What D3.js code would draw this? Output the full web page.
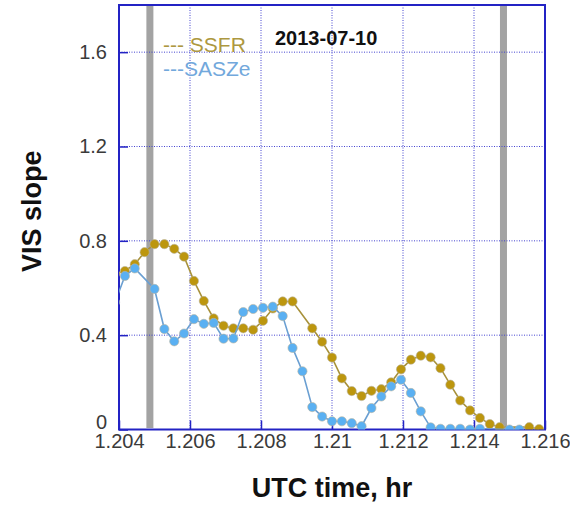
<!DOCTYPE html>
<html>
<head>
<meta charset="utf-8">
<script src="https://cdn.jsdelivr.net/npm/d3@7"></script>
<style>
  body { margin: 0; background: #fff; }
  text { font-family: Arial, "Liberation Sans", sans-serif; }
</style>
</head>
<body>
<svg id="chart" width="570" height="505"></svg>
<script>
// UTC time in hours, one sample per second
const timeHr = [1.203889, 1.204167, 1.204444, 1.204722, 1.205000, 1.205278, 1.205556, 1.205833,
    1.206111, 1.206389, 1.206667, 1.206944, 1.207222, 1.207500, 1.207778, 1.208056,
    1.208333, 1.208611, 1.208889, 1.209167, 1.209444, 1.209722, 1.210000, 1.210278,
    1.210556, 1.210833, 1.211111, 1.211389, 1.211667, 1.211944, 1.212222, 1.212500,
    1.212778, 1.213056, 1.213333, 1.213611, 1.213889, 1.214167, 1.214444, 1.214722,
    1.215000, 1.215278, 1.215556, 1.215833];

const ssfr = [0.660, 0.672, 0.701, 0.752, 0.786, 0.786, 0.766, 0.733,
    0.630, 0.545, 0.471, 0.440, 0.429, 0.429, 0.423, 0.461,
    0.513, 0.543, 0.543, null, 0.429, 0.372, 0.305, 0.217,
    0.163, 0.142, 0.164, 0.171, 0.200, 0.255, 0.296, 0.313,
    0.306, 0.260, 0.190, 0.123, 0.081, 0.049, 0.023, 0.010,
    null, null, 0.010, 0.002];

const sasze = [0.540, 0.651, 0.683, null, 0.596, 0.426, 0.374, 0.407,
    0.468, 0.448, 0.452, 0.385, 0.386, 0.498, 0.511, 0.516,
    0.521, 0.481, 0.346, 0.247, 0.095, 0.055, 0.035, 0.035,
    0.027, 0.014, 0.091, 0.140, 0.183, 0.211, 0.155, 0.077,
    0.009, 0.003, 0.003, 0.003, 0.000, 0.003, null, null,
    0.000, 0.000, null, null];

const xTicks = [1.204, 1.206, 1.208, 1.21, 1.212, 1.214, 1.216];
const yTicks = [0, 0.4, 0.8, 1.2, 1.6];
const markerTimes = [1.20487, 1.21483];

const svg = d3.select("#chart");
const plotL = 119, plotR = 545, plotT = 5, plotB = 429.5;

const x = d3.scaleLinear().domain([1.204, 1.216]).range([plotL, plotR]);
const y = d3.scaleLinear().domain([0, 1.8]).range([plotB, plotT]);

svg.append("clipPath").attr("id", "plotclip")
    .append("rect")
    .attr("x", plotL).attr("y", plotT)
    .attr("width", plotR - plotL).attr("height", plotB - plotT);

// gray markers
svg.append("g").attr("clip-path", "url(#plotclip)")
    .selectAll("rect")
    .data(markerTimes)
    .enter()
    .append("rect")
    .attr("x", d => x(d) - 3.5)
    .attr("y", plotT)
    .attr("width", 7)
    .attr("height", plotB - plotT - 1.5)
    .attr("fill", "#a3a3a3");

// dotted grid
var grid = svg.append("g")
    .attr("stroke", "#4444d0")
    .attr("stroke-width", 1)
    .attr("stroke-dasharray", "1,1.5");
grid.selectAll(".gx")
    .data(xTicks.slice(1, -1))
    .enter()
    .append("line")
    .attr("x1", d => x(d)).attr("x2", d => x(d))
    .attr("y1", plotT).attr("y2", plotB);
grid.selectAll(".gy")
    .data(yTicks.slice(1))
    .enter()
    .append("line")
    .attr("x1", plotL).attr("x2", plotR)
    .attr("y1", d => y(d)).attr("y2", d => y(d));

// axes, ticks pointing inward
var xAxis = d3.axisBottom(x)
    .tickValues(xTicks)
    .tickSize(-9)
    .tickPadding(5)
    .tickFormat(d => String(+d.toFixed(3)));
var gx = svg.append("g")
    .attr("transform", "translate(0," + plotB + ")")
    .call(xAxis);

var yAxis = d3.axisLeft(y)
    .tickValues(yTicks)
    .tickSize(-9)
    .tickPadding(12)
    .tickFormat(d => String(+d.toFixed(1)));
var gy = svg.append("g")
    .attr("transform", "translate(" + plotL + ",0)")
    .call(yAxis);

[gx, gy].forEach(function (g) {
    g.select(".domain").remove();
    g.selectAll(".tick line").attr("stroke", "#2323c4").attr("stroke-width", 1.5);
    g.selectAll(".tick text")
        .attr("fill", "#3a3a3a")
        .attr("font-size", 20)
        .attr("font-family", "Arial, 'Liberation Sans', sans-serif");
});
gx.selectAll(".tick text").attr("dy", "0.72em").attr("y", 4);
gy.selectAll(".tick text").filter(d => d === 0).attr("y", -7);

// frame
svg.append("rect")
    .attr("x", plotL).attr("y", plotT)
    .attr("width", plotR - plotL).attr("height", plotB - plotT)
    .attr("fill", "none")
    .attr("stroke", "#2323c4")
    .attr("stroke-width", 2);

// series
function drawSeries(values, lineColor, dotColor) {
    var pts = timeHr.map((t, i) => [t, values[i]]).filter(p => p[1] !== null);
    var g = svg.append("g").attr("clip-path", "url(#plotclip)");
    g.append("path")
        .datum(pts)
        .attr("fill", "none")
        .attr("stroke", lineColor)
        .attr("stroke-width", 1.6)
        .attr("d", d3.line().x(d => x(d[0])).y(d => y(d[1])));
    g.selectAll("circle")
        .data(pts)
        .enter()
        .append("circle")
        .attr("cx", d => x(d[0]))
        .attr("cy", d => y(d[1]))
        .attr("r", 4.6)
        .attr("fill", dotColor)
        .attr("stroke", "#b9b4a0")
        .attr("stroke-width", 0.6);
}
drawSeries(ssfr, "#a8923c", "#bc960e");
drawSeries(sasze, "#6a9fd2", "#5ab0f2");

// legend and date
svg.append("text").attr("x", 163).attr("y", 52)
    .attr("font-size", 21).attr("fill", "#ad9840")
    .text("--- SSFR");
svg.append("text").attr("x", 163).attr("y", 76)
    .attr("font-size", 21).attr("fill", "#72a8dc")
    .text("---SASZe");
svg.append("text").attr("x", 275).attr("y", 45)
    .attr("font-size", 20).attr("font-weight", "bold").attr("fill", "#111")
    .text("2013-07-10");

// axis titles
svg.append("text")
    .attr("x", (plotL + plotR) / 2).attr("y", 497)
    .attr("text-anchor", "middle")
    .attr("font-size", 27).attr("font-weight", "bold").attr("fill", "#111")
    .text("UTC time, hr");
svg.append("text")
    .attr("transform", "translate(41," + ((plotT + plotB) / 2 - 6) + ") rotate(-90)")
    .attr("text-anchor", "middle")
    .attr("font-size", 27).attr("font-weight", "bold").attr("fill", "#111")
    .text("VIS slope");
</script>
</body>
</html>
